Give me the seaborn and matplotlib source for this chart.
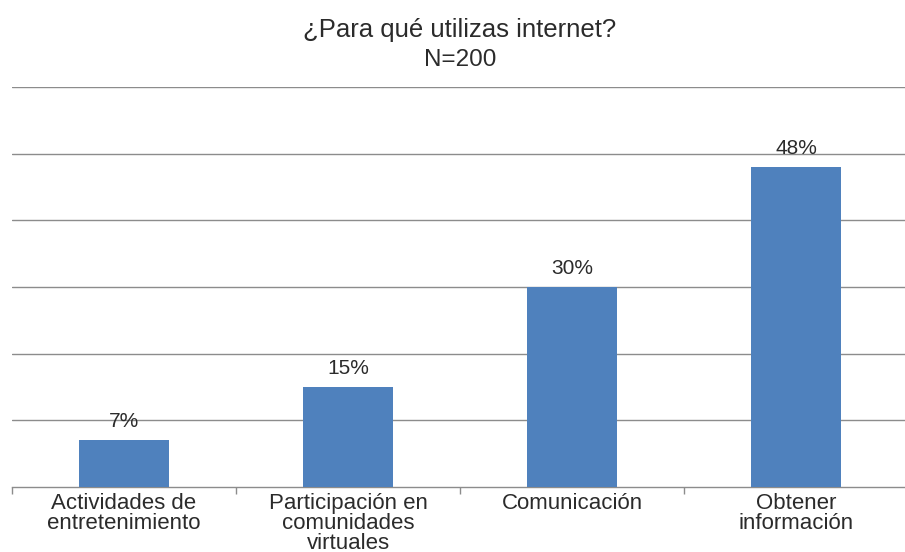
import matplotlib
matplotlib.use("Agg")
import matplotlib.pyplot as plt
import seaborn as sns
import pandas as pd
import numpy as np

categories = ["Actividades de\nentretenimiento",
              "Participación en\ncomunidades\nvirtuales",
              "Comunicación",
              "Obtener\ninformación"]
values = [7, 15, 30, 48]
value_labels = ["7%", "15%", "30%", "48%"]

sns.set_theme(style="white")
plt.rcParams["font.family"] = ["Liberation Sans", "DejaVu Sans"]

df = pd.DataFrame({"uso": categories, "pct": values})

fig = plt.figure(figsize=(9.05, 5.52), dpi=100)
ax = fig.add_axes([12 / 905, 65 / 552, 896 / 905, 400 / 552])

sns.barplot(data=df, x="uso", y="pct", color="#4F81BD", width=0.4,
            saturation=1, linewidth=0, ax=ax, zorder=3)

ax.set_ylim(0, 60)
ax.set_xlim(-0.5, 3.5)
ax.set_yticks(np.arange(10, 61, 10))
ax.yaxis.grid(True, color="#8c8c8c", linewidth=1.0, zorder=0)
ax.set_axisbelow(True)
ax.tick_params(axis="y", left=False, labelleft=False)
ax.set_xlabel("")
ax.set_ylabel("")

for side in ["top", "right", "left"]:
    ax.spines[side].set_visible(False)
ax.spines["bottom"].set_color("#8c8c8c")
ax.spines["bottom"].set_linewidth(1.0)

ax.set_xticks(range(len(categories)))
ax.set_xticklabels(categories, fontsize=16, color="#2b2b2b", linespacing=0.95)
ax.tick_params(axis="x", which="major", length=0, pad=4)
ax.set_xticks(np.arange(-0.5, len(categories), 1.0), minor=True)
ax.tick_params(axis="x", which="minor", length=5, width=1, color="#8c8c8c",
               direction="out", bottom=True)

for i, (v, lab) in enumerate(zip(values, value_labels)):
    ax.text(i, v + 1.4, lab, ha="center", va="bottom", fontsize=15,
            color="#2b2b2b")

fig.text(460 / 905, 1 - 30 / 552, "¿Para qué utilizas internet?",
         ha="center", va="center", fontsize=18.5, color="#2b2b2b")
fig.text(460 / 905, 1 - 60 / 552, "N=200",
         ha="center", va="center", fontsize=17.5, color="#2b2b2b")

fig.savefig("out.png", dpi=100, facecolor="white")
